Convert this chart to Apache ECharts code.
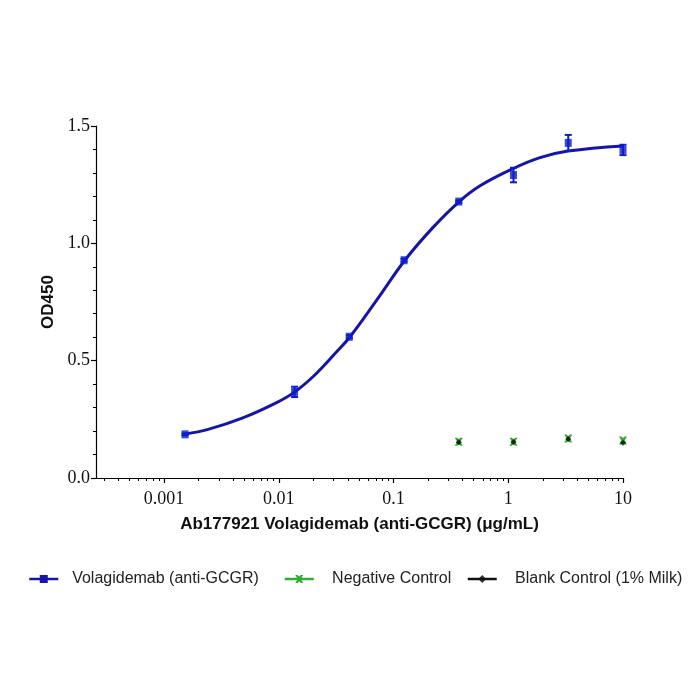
<!DOCTYPE html>
<html>
<head>
<meta charset="utf-8">
<script src="https://cdn.jsdelivr.net/npm/echarts@6/dist/echarts.min.js"></script>
<style>html,body{margin:0;padding:0;background:#fff;}#chart{width:700px;height:700px;}</style>
</head>
<body>
<div id="chart"></div>
<script>
// ---- data ----
const conc = [0.001524, 0.01372, 0.04115, 0.1235, 0.3704, 1.111, 3.333, 10];
const volMean = [0.186, 0.367, 0.602, 0.928, 1.178, 1.291, 1.428, 1.398];
const volSD = [0.004, 0.022, 0.006, 0.006, 0.005, 0.031, 0.034, 0.022];

const curveX = [0.001524, 0.00242, 0.00479, 0.00928, 0.0137, 0.0207, 0.0322, 0.0418, 0.0718, 0.126, 0.221, 0.372, 0.568, 1.12, 1.89, 3.32, 10];
const curveY = [0.187, 0.207, 0.255, 0.318, 0.366, 0.440, 0.540, 0.602, 0.760, 0.929, 1.068, 1.177, 1.245, 1.320, 1.365, 1.393, 1.415];

const ctrlConc = [0.3704, 1.111, 3.333, 10];
const negMean = [0.155, 0.155, 0.168, 0.160];
const blankMean = [0.152, 0.153, 0.166, 0.150];

const xMajorTicks = [0.001, 0.01, 0.1, 1, 10];
const xMajorLabels = ['0.001', '0.01', '0.1', '1', '10'];
const xMinorTicks = [0.0003,0.0004,0.0005,0.0006,0.0007,0.0008,0.0009,
  0.002,0.003,0.004,0.005,0.006,0.007,0.008,0.009,
  0.02,0.03,0.04,0.05,0.06,0.07,0.08,0.09,
  0.2,0.3,0.4,0.5,0.6,0.7,0.8,0.9,
  2,3,4,5,6,7,8,9];
const yTicks = [0, 0.5, 1.0, 1.5];

const seriesNames = ['Volagidemab (anti-GCGR)', 'Negative Control', 'Blank Control (1% Milk)'];

// ---- chart ----
const blue = '#1515a8';
const bluePt = '#0c1ccc';
const green = '#2fae2f';
const black = '#111111';
const colors = [blue, green, black];
const serif = '"Liberation Serif","Times New Roman",serif';
const sans = '"Liberation Sans",Arial,sans-serif';

const chart = echarts.init(document.getElementById('chart'));
const crossPath = 'path://M0,0 L3,0 L5,2 L7,0 L10,0 L7,5 L10,10 L7,10 L5,8 L3,10 L0,10 L3,5 Z';

const errData = conc.map((c, i) => [c, volMean[i] - volSD[i], volMean[i] + volSD[i]]);

const legendLefts = [28, 283.5, 466.5];
const legendPads = ['  ', '   ', '   '];
const legends = seriesNames.map((n, i) => ({
  left: legendLefts[i], top: 571, padding: 0,
  itemWidth: 29, itemHeight: 10,
  textStyle: { fontFamily: sans, fontSize: 16, color: '#222' },
  formatter: name => legendPads[i] + name,
  data: [{ name: n, lineStyle: { width: 2.5, color: colors[i], opacity: 1 } }]
}));

chart.setOption({
  animation: false,
  backgroundColor: '#fff',
  grid: { left: 96, right: 77, top: 126, bottom: 222, containLabel: false },
  legend: legends,
  xAxis: [{
    type: 'log', logBase: 10, min: 0.000255, max: 10,
    name: 'Ab177921 Volagidemab (anti-GCGR) (\u03bcg/mL)',
    nameLocation: 'middle', nameGap: 38,
    nameTextStyle: { fontFamily: sans, fontSize: 17, fontWeight: 'bold', color: '#111' },
    axisLine: { show: true, lineStyle: { color: '#000', width: 1.2 } },
    axisTick: { show: true, length: 5, customValues: xMajorTicks, lineStyle: { color: '#000', width: 1.2 } },
    axisLabel: {
      customValues: xMajorTicks, margin: 12,
      fontFamily: serif, fontSize: 18, color: '#111',
      formatter: function (v) {
        for (let i = 0; i < xMajorTicks.length; i++) {
          if (Math.abs(Math.log10(v) - Math.log10(xMajorTicks[i])) < 1e-6) return xMajorLabels[i];
        }
        return '';
      }
    },
    splitLine: { show: false }
  }, {
    type: 'log', logBase: 10, min: 0.000255, max: 10, position: 'bottom',
    axisLine: { show: false },
    axisTick: { show: true, length: 3, customValues: xMinorTicks, lineStyle: { color: '#000', width: 1 } },
    axisLabel: { show: false },
    splitLine: { show: false }
  }],
  yAxis: {
    type: 'value', min: 0, max: 1.5, interval: 0.5,
    name: 'OD450', nameLocation: 'middle', nameGap: 38,
    nameTextStyle: { fontFamily: sans, fontSize: 17, fontWeight: 'bold', color: '#111' },
    axisLine: { show: true, lineStyle: { color: '#000', width: 1.2 } },
    axisTick: { show: true, length: 5, lineStyle: { color: '#000', width: 1.2 } },
    minorTick: { show: true, splitNumber: 5, length: 3, lineStyle: { color: '#000', width: 1 } },
    axisLabel: {
      margin: 6, fontFamily: serif, fontSize: 18, color: '#111',
      formatter: v => v.toFixed(1)
    },
    splitLine: { show: false }
  },
  series: [
    {
      name: seriesNames[0], type: 'line', smooth: 0.4,
      data: curveX.map((x, i) => [x, curveY[i]]),
      symbol: 'rect', symbolSize: [7, 7], showSymbol: false,
      lineStyle: { color: blue, width: 3 },
      itemStyle: { color: blue },
      z: 2
    },
    {
      name: seriesNames[0], type: 'custom',
      data: errData,
      encode: { x: 0, y: [1, 2] },
      renderItem: function (params, api) {
        const x = api.value(0);
        const p1 = api.coord([x, api.value(1)]);
        const p2 = api.coord([x, api.value(2)]);
        const w = 3.5;
        const st = { stroke: bluePt, lineWidth: 2 };
        return {
          type: 'group', children: [
            { type: 'line', shape: { x1: p1[0], y1: p1[1], x2: p2[0], y2: p2[1] }, style: st },
            { type: 'line', shape: { x1: p1[0] - w, y1: p1[1], x2: p1[0] + w, y2: p1[1] }, style: st },
            { type: 'line', shape: { x1: p2[0] - w, y1: p2[1], x2: p2[0] + w, y2: p2[1] }, style: st }
          ]
        };
      },
      z: 3
    },
    {
      name: seriesNames[0], type: 'scatter',
      data: conc.map((c, i) => [c, volMean[i]]),
      symbol: 'rect', symbolSize: [7, 8],
      itemStyle: { color: bluePt },
      z: 4
    },
    {
      name: seriesNames[1], type: 'line',
      data: ctrlConc.map((c, i) => [c, negMean[i]]),
      symbol: crossPath, symbolSize: 8, showSymbol: true,
      lineStyle: { width: 0, opacity: 0, color: green },
      itemStyle: { color: green },
      z: 4
    },
    {
      name: seriesNames[2], type: 'line',
      data: ctrlConc.map((c, i) => [c, blankMean[i]]),
      symbol: 'diamond', symbolSize: 6, showSymbol: true,
      lineStyle: { width: 0, opacity: 0, color: black },
      itemStyle: { color: black, opacity: 0.85 },
      z: 5
    }
  ]
});
</script>
</body>
</html>
